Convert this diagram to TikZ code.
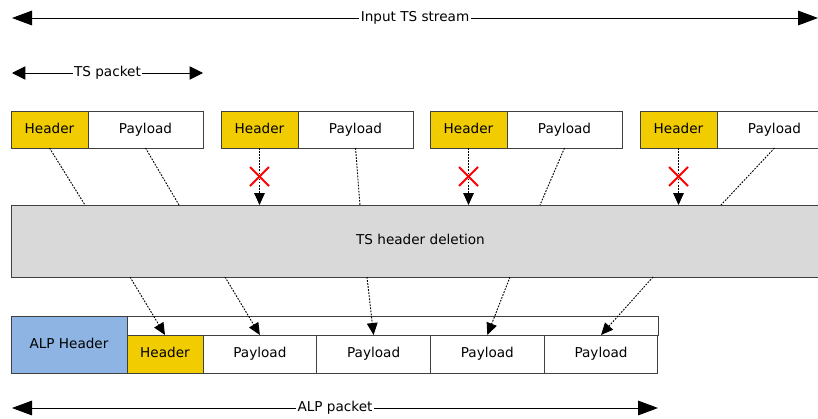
\documentclass[tikz,border=0pt]{standalone}
\usepackage{fontspec}
\setmainfont{DejaVu Sans}
\usetikzlibrary{arrows.meta,positioning}

\definecolor{hdryellow}{HTML}{F0CC00}
\definecolor{alpblue}{HTML}{8DB4E2}
\definecolor{procgray}{HTML}{D9D9D9}
\definecolor{edgegray}{HTML}{404040}

\begin{document}
\begin{tikzpicture}[x=0.75pt, y=-0.75pt, font=\fontsize{10.2}{12}\selectfont,
	box/.style={draw=edgegray, line width=0.7pt, inner sep=0pt, outer sep=0pt, text height=7.6pt, text depth=2pt},
	hdr/.style={box, fill=hdryellow, minimum width=57.75pt, minimum height=27.75pt},
	pld/.style={box, fill=white, minimum width=86.25pt, minimum height=27.75pt},
	opld/.style={box, fill=white, minimum width=85.3pt, minimum height=28.5pt},
	span/.style={line width=0.7pt, {Triangle[length=15pt,width=11pt]}-{Triangle[length=15pt,width=11pt]}},
	spanlabel/.style={midway, fill=white, inner sep=1pt},
	link/.style={dash pattern=on 1.3pt off 1pt, line width=0.7pt},
	drop/.style={link, -{Triangle[length=9pt,width=8pt]}},
	cross/.style={red, line width=1.4pt}]

	\useasboundingbox (0,0) rectangle (818,418);

	% stream and packet lengths
	\coordinate (in-l) at (12,18);
	\coordinate (in-r) at (818,18);
	\draw [span] (in-l) -- (in-r) node [spanlabel] {Input TS stream};
	\coordinate (ts-l) at (12,73);
	\coordinate (ts-r) at (203,73);
	\draw [line width=0.7pt, {Triangle[length=10pt,width=10pt]}-{Triangle[length=10pt,width=10pt]}] (ts-l) -- (ts-r) node [spanlabel] {TS packet};

	% TS packets
	\foreach \x [count=\i] in {11,221,430,640} {
		\node [hdr, anchor=north west] (h\i) at (\x,111) {Header};
		\node [pld, right=0pt of h\i] (p\i) {Payload};
	}

	% deletion block
	\node [box, fill=procgray, anchor=north west, minimum width=614.25pt, minimum height=54pt] (del) at (11,205) {TS header deletion};

	\foreach \x [count=\i] in {85,179,360,540,721}
		\coordinate (t\i) at (\x,205);
	\draw [link] (h1.south) -- (t1);
	\foreach \i [evaluate=\i as \j using int(\i+1)] in {1,...,4}
		\draw [link] (p\i.south) -- (t\j);
	\foreach \i in {2,3,4} {
		\draw [drop] (h\i.south) -- (h\i.south |- del.north) coordinate [pos=0.5] (x\i);
		\draw [cross] ([shift={(-9.5,-9.5)}]x\i) -- ([shift={(9.5,9.5)}]x\i);
		\draw [cross] ([shift={(-9.5,9.5)}]x\i) -- ([shift={(9.5,-9.5)}]x\i);
	}

	% ALP packet
	\node [box, fill=alpblue, anchor=north west, minimum width=87pt, minimum height=42.75pt] (alp) at (11,316) {ALP Header};
	\node [box, anchor=north west, minimum width=398.25pt, minimum height=14.25pt] (strip) at (127,316) {};
	\node [box, fill=hdryellow, anchor=north west, minimum width=57pt, minimum height=28.5pt] (o0) at (127,335) {Header};
	\foreach \i [evaluate=\i as \j using int(\i-1)] in {1,...,4}
		\node [opld, right=0pt of o\j] (o\i) {Payload};

	\foreach \x [count=\i from 0] in {130,225,367,510,653} {
		\coordinate (b\i) at (\x,277);
		\draw [drop] (b\i) -- (o\i.north);
	}

	\coordinate (alp-l) at (12,408);
	\coordinate (alp-r) at (658,408);
	\draw [span] (alp-l) -- (alp-r) node [spanlabel] {ALP packet};
\end{tikzpicture}
\end{document}
